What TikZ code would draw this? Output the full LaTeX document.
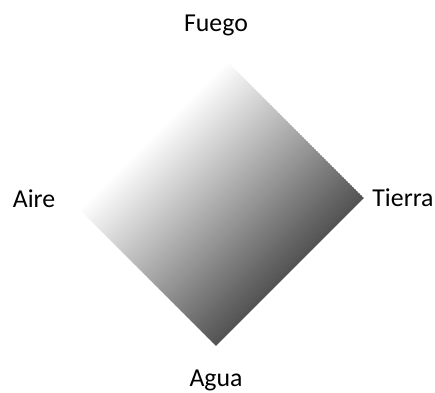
\documentclass[tikz,border=0pt]{standalone}
\usepackage{fontspec}
\setmainfont{Carlito}
\usepackage{tikz}
\definecolor{earthgray}{RGB}{82,82,82}
\tikzset{elemlabel/.style={anchor=base,inner sep=0pt,font=\fontsize{25.8pt}{31pt}\selectfont}}

\begin{document}
\begin{tikzpicture}[x=1pt,y=1pt]
  \useasboundingbox (0,0) rectangle (435,392);
  % diamond, white at the Fuego--Aire side, dark at the Tierra--Agua side
  \begin{scope}[shift={(216,194)},rotate=-45]
    \clip (-104.6,-104.6) rectangle (104.6,104.6);
    \foreach \i in {0,...,119}{
      \pgfmathsetmacro\pct{max(0,((\i+0.5)/120-0.08)/0.92*100)}
      \fill[earthgray!\pct!white] ({-104.6+\i*1.7433},-104.6) rectangle ({-104.6+(\i+1)*1.7433+0.4},104.6);
    }
  \end{scope}
  \node[elemlabel] (fuego) at (216,360) {Fuego};
  \node[elemlabel] (aire) at (34,185) {Aire};
  \node[elemlabel] (tierra) at (403,186) {Tierra};
  \node[elemlabel] (agua) at (216,6) {Agua};
\end{tikzpicture}
\end{document}
